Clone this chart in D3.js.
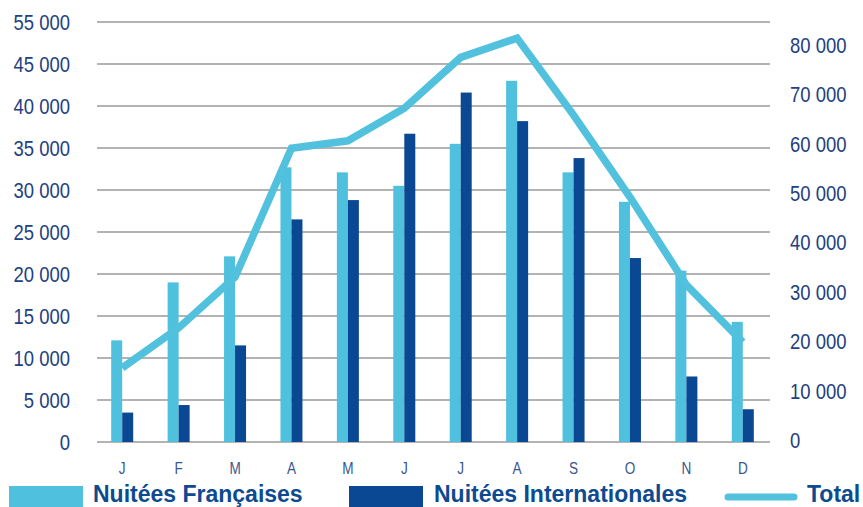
<!DOCTYPE html>
<html>
<head>
<meta charset="utf-8">
<script src="https://cdn.jsdelivr.net/npm/d3@7"></script>
<style>
  html, body { margin: 0; padding: 0; background: #fff; }
  svg { display: block; }
  .tick-label { font-family: "Liberation Sans Narrow", "Liberation Sans", Arial, sans-serif; fill: #23407f; }
  .month-label { font-family: "Liberation Sans Narrow", "Liberation Sans", Arial, sans-serif; fill: #3a5690; }
  .legend-label { font-family: "Liberation Sans", Arial, sans-serif; font-weight: bold; fill: #0d4a8f; }
</style>
</head>
<body>
<svg id="chart"></svg>
<script>
const width = 863;
const height = 507;

const months = ["J", "F", "M", "A", "M", "J", "J", "A", "S", "O", "N", "D"];
const francaises = [12100, 19000, 22100, 32700, 32100, 30500, 35500, 43000, 32100, 28600, 20400, 14300];
const internationales = [3500, 4400, 11500, 26500, 28800, 36700, 41600, 38200, 33800, 21900, 7800, 3900];
const total = [14600, 22700, 33000, 59100, 60600, 67200, 77500, 81400, 65800, 49200, 31400, 19800];

// left axis: gridlines every 5 000, top label printed as "55 000" in the source
const leftTicks = [0, 5000, 10000, 15000, 20000, 25000, 30000, 35000, 40000, 45000, 50000];
const leftLabels = ["0", "5 000", "10 000", "15 000", "20 000", "25 000", "30 000", "35 000", "40 000", "45 000", "55 000"];
const rightTicks = [0, 10000, 20000, 30000, 40000, 50000, 60000, 70000, 80000];

const colorFr = "#4fc0dd";
const colorIn = "#0b4893";
const colorTotal = "#52c1de";

const svg = d3.select("#chart").attr("width", width).attr("height", height);

const x = d3.scaleBand().domain(d3.range(months.length)).range([94, 771]);
const yLeft = d3.scaleLinear().domain([0, 50000]).range([442, 22]);
const yRight = d3.scaleLinear().domain([0, 80000]).range([440, 45]);
const fmt = (v) => d3.format(",")(v).replace(/,/g, " ");
const squeeze = 0.84;

// grid
svg.append("g")
  .selectAll("line")
  .data(leftTicks)
  .join("line")
  .attr("x1", 97)
  .attr("x2", 770)
  .attr("y1", (d) => yLeft(d))
  .attr("y2", (d) => yLeft(d))
  .attr("stroke", "#9a9a9a")
  .attr("stroke-width", 1.6);

// left labels
svg.append("g")
  .selectAll("text")
  .data(leftTicks)
  .join("text")
  .attr("class", "tick-label")
  .attr("transform", (d) => `translate(70,${yLeft(d)}) scale(${squeeze},1)`)
  .attr("dy", "0.36em")
  .attr("text-anchor", "end")
  .attr("font-size", 22)
  .text((d, i) => leftLabels[i]);

// right labels
svg.append("g")
  .selectAll("text")
  .data(rightTicks)
  .join("text")
  .attr("class", "tick-label")
  .attr("transform", (d) => `translate(790,${yRight(d)}) scale(${squeeze},1)`)
  .attr("dy", "0.36em")
  .attr("text-anchor", "start")
  .attr("font-size", 22)
  .text((d) => fmt(d));

// month labels
svg.append("g")
  .selectAll("text")
  .data(months)
  .join("text")
  .attr("class", "month-label")
  .attr("transform", (d, i) => `translate(${x(i) + x.bandwidth() / 2},468) scale(0.8,1)`)
  .attr("dy", "0.36em")
  .attr("text-anchor", "middle")
  .attr("font-size", 17)
  .text((d) => d);

const barW = 11;

svg.append("g")
  .selectAll("rect")
  .data(francaises)
  .join("rect")
  .attr("x", (d, i) => x(i) + x.bandwidth() / 2 - barW)
  .attr("y", (d) => yLeft(d))
  .attr("width", barW)
  .attr("height", (d) => yLeft(0) - yLeft(d))
  .attr("fill", colorFr);

svg.append("g")
  .selectAll("rect")
  .data(internationales)
  .join("rect")
  .attr("x", (d, i) => x(i) + x.bandwidth() / 2)
  .attr("y", (d) => yLeft(d))
  .attr("width", barW)
  .attr("height", (d) => yLeft(0) - yLeft(d))
  .attr("fill", colorIn);

const line = d3.line()
  .x((d, i) => x(i) + x.bandwidth() / 2)
  .y((d) => yRight(d));

svg.append("path")
  .datum(total)
  .attr("d", line)
  .attr("fill", "none")
  .attr("stroke", colorTotal)
  .attr("stroke-width", 7.5)
  .attr("stroke-linejoin", "miter");

// legend
const legend = svg.append("g");
legend.append("rect").attr("x", 9).attr("y", 486).attr("width", 74).attr("height", 21).attr("fill", colorFr);
legend.append("text").attr("class", "legend-label").attr("x", 93).attr("y", 502).attr("font-size", 23).text("Nuitées Françaises");
legend.append("rect").attr("x", 349).attr("y", 486).attr("width", 74).attr("height", 21).attr("fill", colorIn);
legend.append("text").attr("class", "legend-label").attr("x", 434).attr("y", 502).attr("font-size", 23).text("Nuitées Internationales");
legend.append("line")
  .attr("x1", 728).attr("x2", 794).attr("y1", 497).attr("y2", 497)
  .attr("stroke", colorTotal).attr("stroke-width", 7).attr("stroke-linecap", "round");
legend.append("text").attr("class", "legend-label").attr("x", 807).attr("y", 502).attr("font-size", 23).text("Total");
</script>
</body>
</html>
